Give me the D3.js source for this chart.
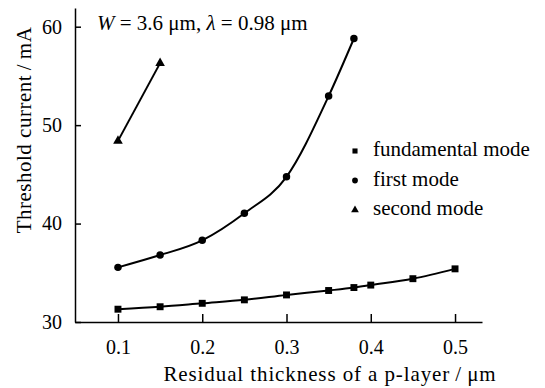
<!DOCTYPE html>
<html>
<head>
<meta charset="utf-8">
<script src="https://cdn.jsdelivr.net/npm/d3@7"></script>
<style>
  body { margin: 0; background: #fff; }
</style>
</head>
<body>
<svg id="chart"></svg>
<script>
const fundX = [0.1, 0.15, 0.2, 0.25, 0.3, 0.35, 0.38, 0.4, 0.45, 0.5];
const fundY = [31.3, 31.55, 31.9, 32.25, 32.75, 33.2, 33.5, 33.75, 34.4, 35.4];
const firstX = [0.1, 0.15, 0.2, 0.25, 0.3, 0.35, 0.38];
const firstY = [35.55, 36.8, 38.3, 41.05, 44.75, 52.95, 58.8];
const secondX = [0.1, 0.15];
const secondY = [48.4, 56.3];
const xTicks = [0.1, 0.2, 0.3, 0.4, 0.5];
const yTicks = [30, 40, 50, 60];
const legendNames = ["fundamental mode", "first mode", "second mode"];

const width = 545, height = 388;
const margin = { top: 8, right: 63, bottom: 66, left: 75 };
const serif = "'Times New Roman', serif";

const svg = d3.select("#chart").attr("width", width).attr("height", height);

const x = d3.scaleLinear().domain([0.049, 0.532]).range([margin.left, width - margin.right]);
const y = d3.scaleLinear().domain([30, 61.9]).range([height - margin.bottom, margin.top]);

// axes
const xAxis = (g) =>
  g.attr("transform", `translate(0,${y(30)})`)
    .call(d3.axisBottom(x).tickValues(xTicks).tickSizeInner(-8).tickSizeOuter(0).tickPadding(18).tickFormat(d3.format(".1f")))
    .call((g) => g.selectAll("text").attr("fill", "#000").style("font-family", serif).style("font-size", "20px"));

const yAxis = (g) =>
  g.attr("transform", `translate(${margin.left},0)`)
    .call(d3.axisLeft(y).tickValues(yTicks).tickSizeInner(-6).tickSizeOuter(0).tickPadding(13))
    .call((g) => g.selectAll("text").attr("fill", "#000").style("font-family", serif).style("font-size", "20px"));

svg.append("g").call(xAxis).selectAll("path,line").attr("stroke", "#000").attr("stroke-width", 1.5);
svg.append("g").call(yAxis).selectAll("path,line").attr("stroke", "#000").attr("stroke-width", 1.5);

// series
const series = [
  { name: legendNames[0], xs: fundX, ys: fundY, shape: d3.symbolSquare, size: 48 },
  { name: legendNames[1], xs: firstX, ys: firstY, shape: d3.symbolCircle, size: 44 },
  { name: legendNames[2], xs: secondX, ys: secondY, shape: d3.symbolTriangle, size: 40 },
];

const line = d3.line().x((d) => x(d[0])).y((d) => y(d[1])).curve(d3.curveMonotoneX);

series.forEach((s) => {
  const pts = s.xs.map((v, i) => [v, s.ys[i]]);
  svg.append("path")
    .attr("d", line(pts))
    .attr("fill", "none")
    .attr("stroke", "#000")
    .attr("stroke-width", 2);
  svg.append("g")
    .selectAll("path")
    .data(pts)
    .join("path")
    .attr("transform", (d) => `translate(${x(d[0])},${y(d[1])})`)
    .attr("d", d3.symbol().type(s.shape).size(s.size))
    .attr("fill", "#000");
});

// legend
const legend = svg.append("g").attr("transform", "translate(355,151)");
series.forEach((s, i) => {
  const g = legend.append("g").attr("transform", `translate(0,${i * 29.5})`);
  g.append("path").attr("d", d3.symbol().type(s.shape).size(26)).attr("fill", "#000");
  g.append("text")
    .attr("x", 18).attr("y", 5)
    .style("font-family", serif).style("font-size", "21px")
    .text(s.name);
});

// annotation
const note = svg.append("text").attr("x", 97).attr("y", 30)
  .style("font-family", serif).style("font-size", "21px");
note.append("tspan").attr("font-style", "italic").text("W");
note.append("tspan").text(" = 3.6 μm, ");
note.append("tspan").attr("font-style", "italic").text("λ");
note.append("tspan").text(" = 0.98 μm");

// axis titles
svg.append("text")
  .attr("x", 330).attr("y", 381)
  .attr("text-anchor", "middle")
  .style("font-family", serif).style("font-size", "21px").style("letter-spacing", "0.9px")
  .text("Residual thickness of a p-layer\u2009/\u2009μm");

svg.append("text")
  .attr("transform", "translate(31,130) rotate(-90)")
  .attr("text-anchor", "middle")
  .style("font-family", serif).style("font-size", "21px").style("letter-spacing", "0.5px")
  .text("Threshold current\u2009/\u2009mA");
</script>
</body>
</html>
